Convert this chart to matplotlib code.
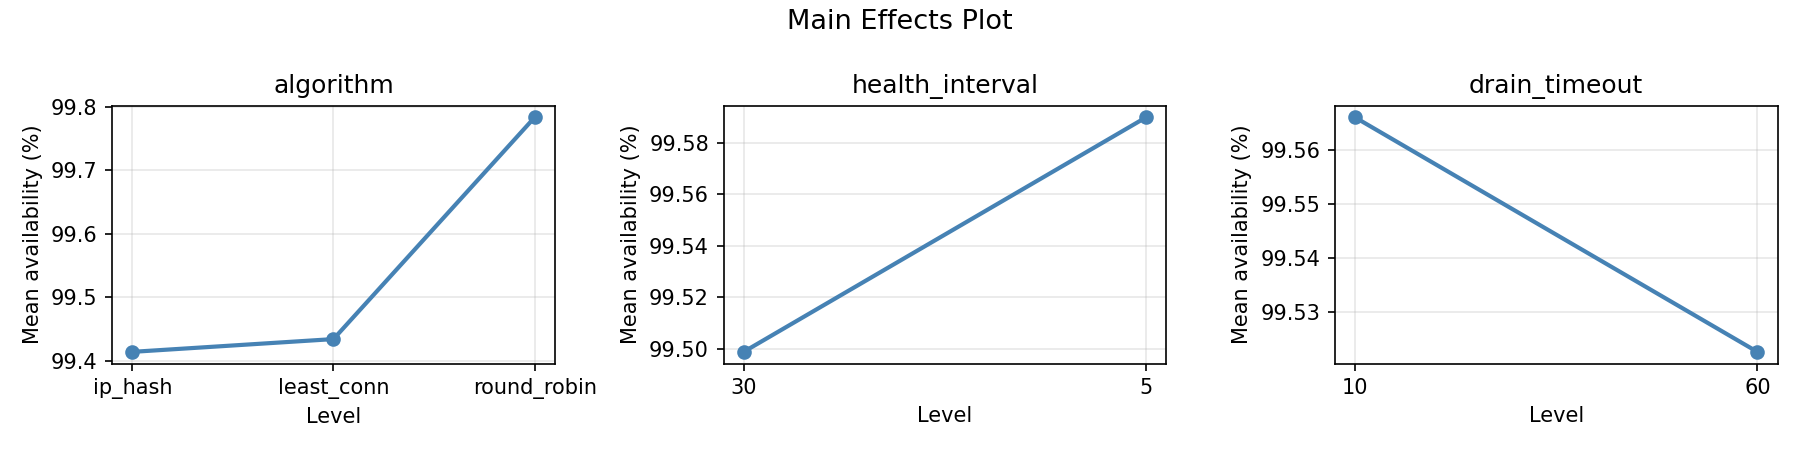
import matplotlib
matplotlib.use('Agg')
import matplotlib.pyplot as plt

# Niveles y medias por factor
factores = ['algorithm', 'health_interval', 'drain_timeout']

algorithm_niveles = ['ip_hash', 'least_conn', 'round_robin']
algorithm_medias = [99.4142, 99.4343, 99.7833]

health_niveles = ['30', '5']
health_medias = [99.4987, 99.5899]

drain_niveles = ['10', '60']
drain_medias = [99.5661, 99.5227]

niveles = [algorithm_niveles, health_niveles, drain_niveles]
medias = [algorithm_medias, health_medias, drain_medias]

fig, axes = plt.subplots(1, 3, figsize=(12, 3), dpi=150)

for ax, nombre, nv, md in zip(axes, factores, niveles, medias):
    ax.plot(nv, md, color='steelblue', marker='o', linewidth=2, markersize=6)
    ax.set_title(nombre)
    ax.set_xlabel('Level')
    ax.set_ylabel('Mean availability (%)')
    ax.grid(True, alpha=0.3)

fig.suptitle('Main Effects Plot', fontsize=13)
plt.tight_layout(rect=(0, 0, 1, 0.993))
plt.savefig('out.png')
